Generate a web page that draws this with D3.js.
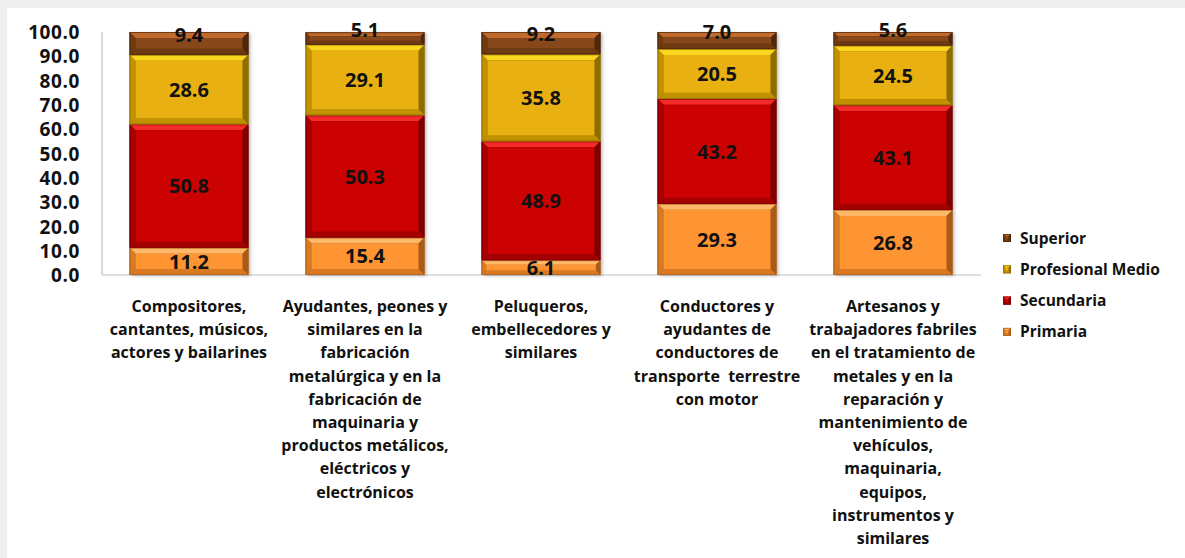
<!DOCTYPE html>
<html>
<head>
<meta charset="utf-8">
<script src="https://cdn.jsdelivr.net/npm/d3@7"></script>
<style>
  body { margin: 0; background: #fff; }
  svg text { font-family: "Open Sans", sans-serif; font-weight: bold; fill: #111; }
</style>
</head>
<body>
<div id="chart"></div>
<script>
let width = 1185,
	height = 558;

// data
let categories = [
	"Compositores,\ncantantes, músicos,\nactores y bailarines",
	"Ayudantes, peones y\nsimilares en la\nfabricación\nmetalúrgica y en la\nfabricación de\nmaquinaria y\nproductos metálicos,\neléctricos y\nelectrónicos",
	"Peluqueros,\nembellecedores y\nsimilares",
	"Conductores y\nayudantes de\nconductores de\ntransporte  terrestre\ncon motor",
	"Artesanos y\ntrabajadores fabriles\nen el tratamiento de\nmetales y en la\nreparación y\nmantenimiento de\nvehículos,\nmaquinaria,\nequipos,\ninstrumentos y\nsimilares"
];
let seriesNames = ["Primaria", "Secundaria", "Profesional Medio", "Superior"];
let primaria = [11.2, 15.4, 6.1, 29.3, 26.8];
let secundaria = [50.8, 50.3, 48.9, 43.2, 43.1];
let profMedio = [28.6, 29.1, 35.8, 20.5, 24.5];
let superior = [9.4, 5.1, 9.2, 7.0, 5.6];
let yTicks = [0, 10, 20, 30, 40, 50, 60, 70, 80, 90, 100];

// face / highlight / shadow per series
let palette = {
	"Primaria": { face: "#ff9433", light: "#ffb868", side: "#d97a22", dark: "#a85c18" },
	"Secundaria": { face: "#cc0202", light: "#f32a2a", side: "#a50000", dark: "#7e0000" },
	"Profesional Medio": { face: "#e8b010", light: "#fbd61e", side: "#c09200", dark: "#8f6c00" },
	"Superior": { face: "#86481a", light: "#c06a2c", side: "#6e3a12", dark: "#4e280a" }
};

let rows = categories.map(function (c, i) {
	return { cat: c, "Primaria": primaria[i], "Secundaria": secundaria[i], "Profesional Medio": profMedio[i], "Superior": superior[i] };
});

let svg = d3.select('#chart').append('svg')
	.attr('width', width)
	.attr('height', height);

// grey frame on top and left
svg.append('rect').attr('width', width).attr('height', height).attr('fill', '#eeeeee');
svg.append('rect').attr('x', 7).attr('y', 8).attr('width', width - 7).attr('height', height - 8).attr('fill', '#ffffff');

let defs = svg.append('defs');
let shadow = defs.append('filter').attr('id', 'shadow').attr('x', '-10%').attr('y', '-10%').attr('width', '130%').attr('height', '130%');
shadow.append('feDropShadow').attr('dx', 2).attr('dy', 1).attr('stdDeviation', 1.5).attr('flood-color', '#000').attr('flood-opacity', 0.25);

let x = d3.scaleBand()
	.domain(categories)
	.range([101, 981])
	.paddingInner(0.324)
	.paddingOuter(0.162);

let y = d3.scaleLinear()
	.domain([0, 100])
	.range([275, 32]);

// axes
let yAxis = d3.axisLeft(y).tickValues(yTicks).tickSize(0).tickPadding(0).tickFormat(d3.format('.1f'));
let gy = svg.append('g').attr('transform', 'translate(80,0)').call(yAxis);
gy.select('.domain').remove();
gy.selectAll('text').style('font-size', '19px').style('letter-spacing', '0.6px').attr('dy', '0.35em');

svg.append('line').attr('x1', 102).attr('x2', 102).attr('y1', y(100)).attr('y2', y(0))
	.attr('stroke', '#bfbfbf').attr('stroke-width', 1.2);
svg.append('line').attr('x1', 102).attr('x2', 981).attr('y1', y(0)).attr('y2', y(0))
	.attr('stroke', '#bfbfbf').attr('stroke-width', 1.2);

let stack = d3.stack().keys(seriesNames);
let stacked = stack(rows);

function bevel(g, x0, x1, y0, y1, col) {
	let b = Math.min(6, (y1 - y0) / 3.2);
	g.append('rect').attr('x', x0).attr('y', y0).attr('width', x1 - x0).attr('height', y1 - y0)
		.attr('fill', col.dark);
	let poly = function (pts, fill) {
		g.append('path').attr('d', 'M' + pts.map(function (p) { return p.join(','); }).join('L') + 'Z').attr('fill', fill);
	};
	poly([[x0, y0], [x1, y0], [x1 - b, y0 + b], [x0 + b, y0 + b]], col.light);
	poly([[x0, y0], [x0 + b, y0 + b], [x0 + b, y1 - b], [x0, y1]], col.side);
	poly([[x1, y0], [x1, y1], [x1 - b, y1 - b], [x1 - b, y0 + b]], col.dark);
	poly([[x0, y1], [x0 + b, y1 - b], [x1 - b, y1 - b], [x1, y1]], col.side);
	g.append('rect').attr('x', x0 + b).attr('y', y0 + b).attr('width', x1 - x0 - 2 * b).attr('height', Math.max(0, y1 - y0 - 2 * b))
		.attr('fill', col.face);
	g.append('rect').attr('x', x0 + 0.5).attr('y', y0 + 0.5).attr('width', x1 - x0 - 1).attr('height', y1 - y0 - 1)
		.attr('fill', 'none').attr('stroke', col.dark).attr('stroke-width', 1).attr('stroke-opacity', 0.7);
}

// bars
let bars = svg.append('g');
categories.forEach(function (c) {
	bars.append('rect')
		.attr('x', x(c)).attr('y', y(100)).attr('width', x.bandwidth()).attr('height', y(0) - y(100))
		.attr('fill', '#fff').attr('filter', 'url(#shadow)');
});
stacked.forEach(function (layer) {
	let col = palette[layer.key];
	layer.forEach(function (d) {
		let g = bars.append('g');
		bevel(g, x(d.data.cat), x(d.data.cat) + x.bandwidth(), y(d[1]), y(d[0]), col);
	});
});

// value labels
stacked.forEach(function (layer) {
	layer.forEach(function (d) {
		let cy = (y(d[0]) + y(d[1])) / 2;
		if (layer.key === "Superior") cy -= 9;
		svg.append('text')
			.attr('x', x(d.data.cat) + x.bandwidth() / 2)
			.attr('y', cy)
			.attr('dy', '0.36em')
			.attr('text-anchor', 'middle')
			.style('font-size', '20px')
			.text(d3.format('.1f')(d.data[layer.key]));
	});
});

// category labels
categories.forEach(function (c) {
	let t = svg.append('text')
		.attr('text-anchor', 'middle')
		.style('font-size', '16px');
	c.split('\n').forEach(function (line, i) {
		t.append('tspan')
			.attr('x', x(c) + x.bandwidth() / 2)
			.attr('y', 312 + i * 23.2)
			.style('white-space', 'pre')
			.text(line);
	});
});

// legend, top entry is Superior
let legendOrder = seriesNames.slice().reverse();
let legend = svg.append('g').attr('transform', 'translate(1003,238)');
legendOrder.forEach(function (k, i) {
	let g = legend.append('g').attr('transform', 'translate(0,' + (i * 31.3) + ')');
	bevel(g, 0, 8, -4, 4, palette[k]);
	g.append('text')
		.attr('x', 17)
		.attr('y', 0)
		.attr('dy', '0.36em')
		.style('font-size', '15.5px')
		.text(k);
});
</script>
</body>
</html>
